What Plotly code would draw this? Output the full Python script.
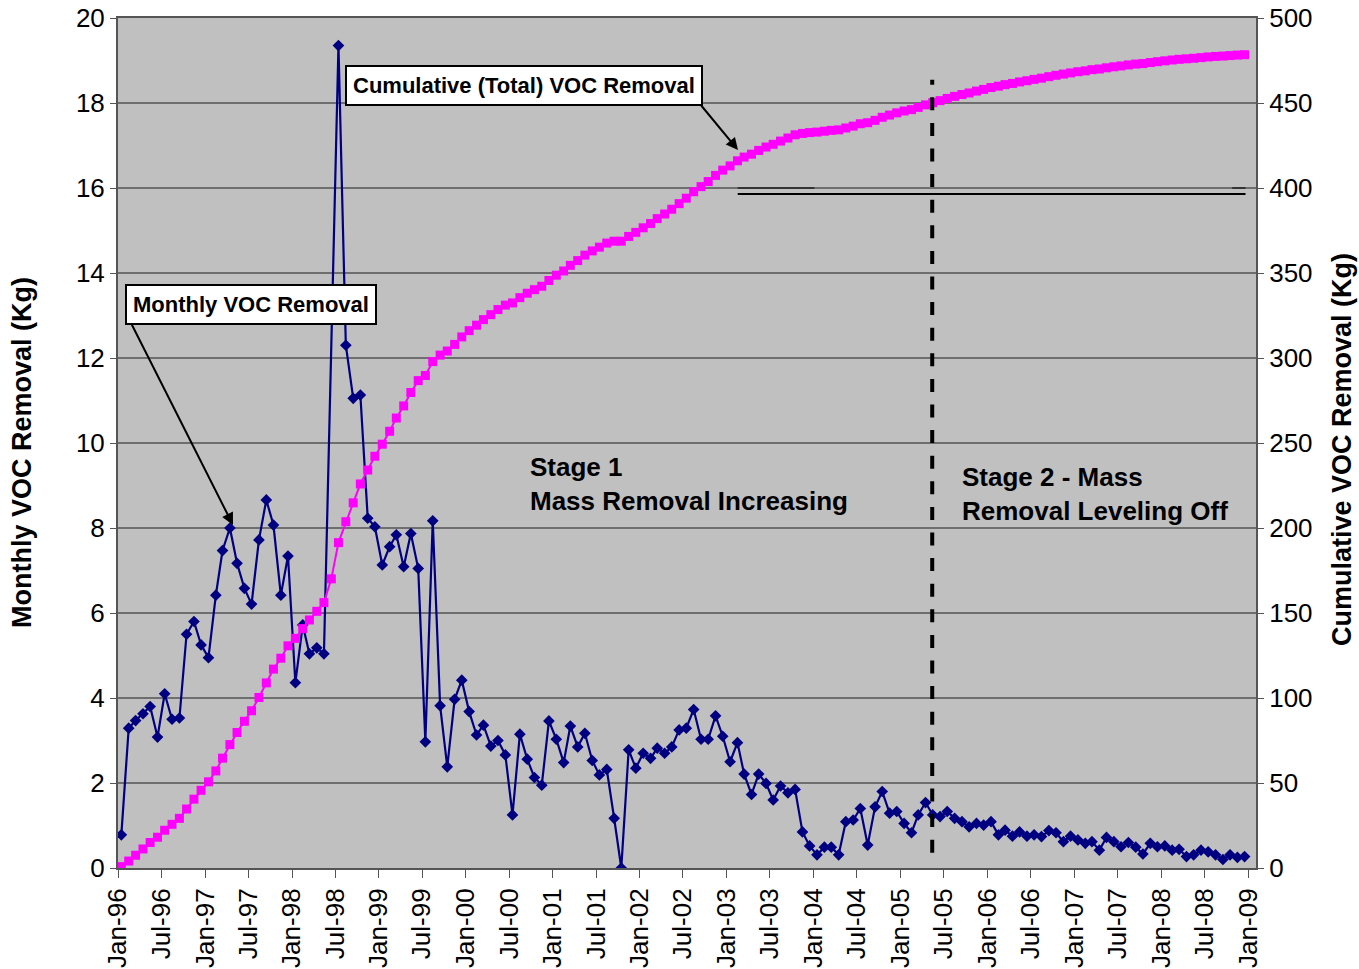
import pandas as pd
import plotly.graph_objects as go

# Month stamps (mid-month), Jan-1996 .. Dec-2008
months = pd.date_range("1996-01-01", "2008-12-01", freq="MS") + pd.Timedelta(days=14)

# Monthly VOC removal (kg); Jun-98 has no reading
monthly_kg = [
    0.78, 3.29, 3.47, 3.63, 3.80, 3.08, 4.10, 3.50, 3.53, 5.50, 5.80, 5.25,
    4.95, 6.42, 7.47, 8.00, 7.17, 6.58, 6.21, 7.72, 8.66, 8.07, 6.42, 7.34,
    4.36, 5.72, 5.04, 5.18, 5.04, None, 19.35, 12.30, 11.05, 11.13, 8.23, 8.03,
    7.13, 7.56, 7.84, 7.09, 7.87, 7.05, 2.97, 8.17, 3.82, 2.38, 3.97, 4.42,
    3.68, 3.13, 3.36, 2.87, 3.00, 2.66, 1.25, 3.15, 2.56, 2.13, 1.95, 3.46,
    3.03, 2.48, 3.34, 2.85, 3.17, 2.53, 2.19, 2.32, 1.17, 0.00, 2.78, 2.35,
    2.70, 2.58, 2.82, 2.70, 2.85, 3.25, 3.29, 3.73, 3.03, 3.03, 3.58, 3.10,
    2.50, 2.95, 2.21, 1.73, 2.21, 1.99, 1.60, 1.93, 1.77, 1.85, 0.85, 0.52,
    0.31, 0.49, 0.49, 0.31, 1.09, 1.13, 1.40, 0.54, 1.44, 1.80, 1.29, 1.33,
    1.05, 0.83, 1.25, 1.54, 1.25, 1.21, 1.33, 1.17, 1.09, 0.97, 1.05, 1.01,
    1.09, 0.78, 0.89, 0.75, 0.85, 0.75, 0.78, 0.74, 0.88, 0.83, 0.62, 0.75,
    0.66, 0.58, 0.62, 0.42, 0.72, 0.62, 0.50, 0.60, 0.49, 0.33, 0.58, 0.50,
    0.52, 0.42, 0.44, 0.27, 0.31, 0.42, 0.38, 0.31, 0.20, 0.31, 0.25, 0.27,
]

# Cumulative (total) VOC removal (kg)
cumulative_kg = [
    0.8, 4.1, 7.5, 11.2, 15.0, 18.1, 22.2, 25.7, 29.2, 34.7, 40.5, 45.7,
    50.7, 57.1, 64.6, 72.6, 79.7, 86.3, 92.5, 100.3, 108.9, 117.0, 123.4, 130.7,
    135.1, 140.8, 145.9, 151.0, 156.1, 170.1, 191.4, 203.7, 214.8, 225.9, 234.1, 242.2,
    249.3, 256.9, 264.7, 271.8, 279.7, 286.7, 289.7, 297.9, 301.7, 304.1, 308.0, 312.4,
    316.1, 319.3, 322.6, 325.5, 328.5, 331.1, 332.4, 335.5, 338.1, 340.2, 342.2, 345.6,
    348.7, 351.2, 354.5, 357.3, 360.5, 363.0, 365.2, 367.6, 368.7, 368.7, 371.5, 373.9,
    376.6, 379.1, 382.0, 384.7, 387.5, 390.8, 394.0, 397.8, 400.8, 403.8, 407.4, 410.5,
    413.0, 416.0, 418.2, 419.9, 422.1, 424.1, 425.7, 427.6, 429.4, 431.3, 432.1, 432.6,
    432.9, 433.4, 433.9, 434.2, 435.3, 436.4, 437.8, 438.4, 439.8, 441.6, 442.9, 444.2,
    445.3, 446.1, 447.4, 448.9, 450.2, 451.4, 452.7, 453.9, 455.0, 455.9, 457.0, 458.0,
    459.1, 459.9, 460.8, 461.5, 462.4, 463.1, 463.9, 464.6, 465.5, 466.3, 467.0, 467.7,
    468.4, 468.9, 469.6, 470.0, 470.7, 471.3, 471.8, 472.4, 472.9, 473.2, 473.8, 474.3,
    474.8, 475.3, 475.7, 476.0, 476.3, 476.7, 477.1, 477.4, 477.6, 477.9, 478.2, 478.4,
]

FONT = "Arial, Liberation Sans, sans-serif"

fig = go.Figure()

fig.add_trace(go.Scatter(
    x=months, y=cumulative_kg, yaxis="y2", mode="lines+markers",
    line=dict(color="#FF00FF", width=2),
    marker=dict(symbol="square", size=9, color="#FF00FF"),
    name="Cumulative (Total) VOC Removal",
))
fig.add_trace(go.Scatter(
    x=months, y=monthly_kg, mode="lines+markers", connectgaps=True,
    line=dict(color="#000080", width=2.2),
    marker=dict(symbol="diamond", size=9, color="#000080"),
    name="Monthly VOC Removal",
))

# Stage boundary (dashed, drawn bottom-up) and reference line
fig.add_shape(type="line", xref="x", yref="y", x0="2005-05-13", x1="2005-05-13",
              y0=0.36, y1=18.55, line=dict(color="black", width=4, dash="13px,12.6px"))
fig.add_shape(type="line", xref="x", yref="y", x0="2003-02-16", x1="2008-12-19",
              y0=15.86, y1=15.86, line=dict(color="black", width=2))
fig.add_shape(type="line", xref="x", yref="y", x0="2003-02-16", x1="2004-01-04",
              y0=16.0, y1=16.0, line=dict(color="#222222", width=1.5))
fig.add_shape(type="line", xref="x", yref="y", x0="2008-10-24", x1="2008-12-19",
              y0=16.0, y1=16.0, line=dict(color="#222222", width=1.5))

box_font = dict(family=FONT, size=22, color="black")
fig.add_annotation(xref="paper", yref="paper", x=0.3568, y=0.92,
                   xanchor="center", yanchor="middle",
                   text="<b>Cumulative (Total) VOC Removal</b>", showarrow=False,
                   font=box_font, bgcolor="white", bordercolor="black",
                   borderwidth=2, borderpad=6)
fig.add_annotation(xref="paper", yref="paper", x=0.1173, y=0.6624,
                   xanchor="center", yanchor="middle",
                   text="<b>Monthly VOC Removal</b>", showarrow=False,
                   font=box_font, bgcolor="white", bordercolor="black",
                   borderwidth=2, borderpad=6)

# Leader arrows
fig.add_annotation(xref="paper", yref="paper", x=0.5448, y=0.8447, ax=-38, ay=-46,
                   text="", showarrow=True, arrowhead=2, arrowsize=1.2,
                   arrowwidth=2, arrowcolor="black", standoff=0)
fig.add_annotation(xref="paper", yref="paper", x=0.10105, y=0.4035, ax=-102, ay=-202,
                   text="", showarrow=True, arrowhead=2, arrowsize=1.2,
                   arrowwidth=2, arrowcolor="black", standoff=0)

stage_font = dict(family=FONT, size=26, color="black")
fig.add_annotation(xref="paper", yref="paper", x=0.3603, y=0.4512,
                   xanchor="left", yanchor="middle",
                   align="left", showarrow=False, font=stage_font,
                   text="<b>Stage 1</b><br><b>Mass Removal Increasing</b>")
fig.add_annotation(xref="paper", yref="paper", x=0.7400, y=0.44,
                   xanchor="left", yanchor="middle",
                   align="left", showarrow=False, font=stage_font,
                   text="<b>Stage 2 - Mass</b><br><b>Removal Leveling Off</b>")

# Axis titles
title_font = dict(family=FONT, size=27, color="black")
fig.add_annotation(xref="paper", yref="paper", x=-0.0844, y=0.4894,
                   xanchor="center", yanchor="middle", textangle=-90,
                   showarrow=False, font=title_font,
                   text="<b>Monthly VOC Removal (Kg)</b>")
fig.add_annotation(xref="paper", yref="paper", x=1.0756, y=0.4918,
                   xanchor="center", yanchor="middle", textangle=-90,
                   showarrow=False, font=title_font,
                   text="<b>Cumulative VOC Removal (Kg)</b>")

tick_font = dict(family=FONT, size=26, color="black")

fig.update_layout(
    width=1359, height=969,
    margin=dict(l=118, r=103, t=18, b=101),
    paper_bgcolor="white", plot_bgcolor="#C0C0C0",
    showlegend=False,
    xaxis=dict(
        type="date", range=["1996-01-01", "2009-02-01"], automargin=False,
        tick0="1996-01-01", dtick="M6", tickformat="%b-%y",
        tickangle=-90, tickfont=tick_font,
        ticks="outside", ticklen=8, tickcolor="#555555",
        showgrid=False, showline=True, linecolor="#555555", linewidth=2,
        mirror=True, zeroline=False,
    ),
    yaxis=dict(
        range=[0, 20], dtick=2, tickfont=tick_font, automargin=False,
        ticks="outside", ticklen=6, tickcolor="#555555",
        showgrid=True, gridcolor="#6E6E6E", gridwidth=1.5,
        showline=True, linecolor="#555555", linewidth=2, zeroline=False,
    ),
    yaxis2=dict(
        range=[0, 500], dtick=50, overlaying="y", side="right", automargin=False,
        tickfont=tick_font, ticks="outside", ticklen=6, tickcolor="#555555",
        showgrid=False, showline=True, linecolor="#555555", linewidth=2, zeroline=False,
    ),
)

fig.write_html("out.html")
